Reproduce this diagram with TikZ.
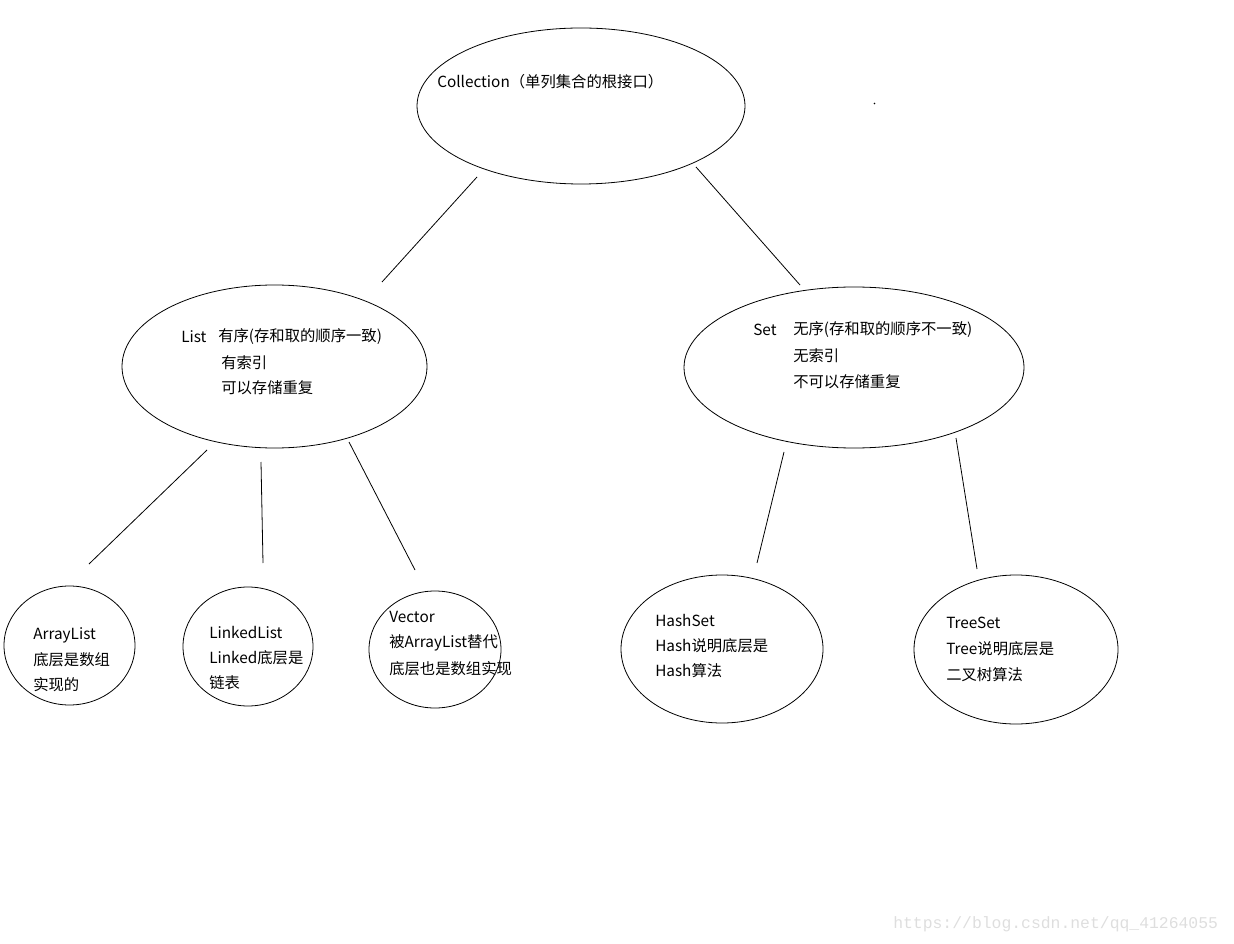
\documentclass[tikz,border=0pt]{standalone}
\usepackage{fontspec}
\newfontfamily\cjk{Noto Sans CJK SC}
\newfontfamily\wmfont{Liberation Mono}
\usetikzlibrary{shapes.geometric}
\begin{document}
\begin{tikzpicture}[x=0.75pt,y=-0.75pt,
  oval/.style={ellipse,draw,line width=0.6pt,inner sep=0pt},
  lbl/.style={anchor=west,inner sep=0pt,font=\cjk\fontsize{11.5pt}{13pt}\selectfont,text=black},
  link/.style={line width=0.6pt}]
\useasboundingbox (0,0) rectangle (1234,944);
% ellipses
\node[oval,minimum width=328pt*0.75,minimum height=156pt*0.75] (coll) at (581,106) {};
\node[oval,minimum width=305pt*0.75,minimum height=163pt*0.75] (list) at (274.5,366.5) {};
\node[oval,minimum width=340pt*0.75,minimum height=161pt*0.75] (set) at (854,367.5) {};
\node[oval,minimum width=131pt*0.75,minimum height=119pt*0.75] (al) at (69.5,645.5) {};
\node[oval,minimum width=130pt*0.75,minimum height=119pt*0.75] (ll) at (248,646.5) {};
\node[oval,minimum width=132pt*0.75,minimum height=117pt*0.75] (vec) at (435,649.5) {};
\node[oval,minimum width=202pt*0.75,minimum height=148pt*0.75] (hs) at (722,649) {};
\node[oval,minimum width=204pt*0.75,minimum height=149pt*0.75] (ts) at (1016,649.5) {};
% texts
\node[lbl] (tcoll) at (437,82) {Collection（单列集合的根接口）};
\node[lbl] (tlist1) at (181,337) {List};
\node[lbl] (tlist2) at (218,337) {有序(存和取的顺序一致)};
\node[lbl] (tlist3) at (221,363) {有索引};
\node[lbl] (tlist4) at (221,388) {可以存储重复};
\node[lbl] (tset1) at (753,330) {Set};
\node[lbl] (tset2) at (793,330) {无序(存和取的顺序不一致)};
\node[lbl] (tset3) at (793,356) {无索引};
\node[lbl] (tset4) at (793,382) {不可以存储重复};
\node[lbl] (tal1) at (33,635) {ArrayList};
\node[lbl] (tal2) at (33,660) {底层是数组};
\node[lbl] (tal3) at (33,685) {实现的};
\node[lbl] (tll1) at (209,632) {LinkedList};
\node[lbl] (tll2) at (209,658) {Linked底层是};
\node[lbl] (tll3) at (209,683) {链表};
\node[lbl] (tv1) at (389,617) {Vector};
\node[lbl] (tv2) at (389,643) {被ArrayList替代};
\node[lbl] (tv3) at (389,669) {底层也是数组实现};
\node[lbl] (ths1) at (655,620) {HashSet};
\node[lbl] (ths2) at (655,646) {Hash说明底层是};
\node[lbl] (ths3) at (655,671) {Hash算法};
\node[lbl] (tts1) at (946,623) {TreeSet};
\node[lbl] (tts2) at (946,649) {Tree说明底层是};
\node[lbl] (tts3) at (946,675) {二叉树算法};
% connector end points
\coordinate (c1a) at (477,177); \coordinate (c1b) at (382,282);
\coordinate (c2a) at (696,167); \coordinate (c2b) at (800,285);
\coordinate (c3a) at (207,450); \coordinate (c3b) at (89,564);
\coordinate (c4a) at (261,462); \coordinate (c4b) at (263,563);
\coordinate (c5a) at (349,442); \coordinate (c5b) at (415,570);
\coordinate (c6a) at (784,452); \coordinate (c6b) at (757,563);
\coordinate (c7a) at (956,438); \coordinate (c7b) at (977,569);
\draw[link] (c1a) -- (c1b);
\draw[link] (c2a) -- (c2b);
\draw[link] (c3a) -- (c3b);
\draw[link] (c4a) -- (c4b);
\draw[link] (c5a) -- (c5b);
\draw[link] (c6a) -- (c6b);
\draw[link] (c7a) -- (c7b);
% stray dot
\fill (874.5,103.5) circle (0.9);
% watermark
\node[anchor=west,inner sep=0pt,font=\wmfont\fontsize{12.3pt}{14pt}\selectfont,text=black!13] (wm) at (893,924) {https://blog.csdn.net/qq\_41264055};
\end{tikzpicture}
\end{document}
